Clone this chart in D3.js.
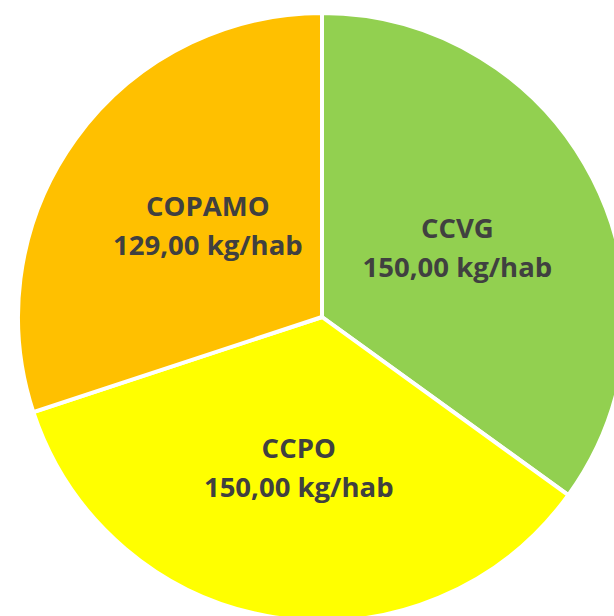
<!DOCTYPE html>
<html><head><meta charset="utf-8">
<script src="https://cdn.jsdelivr.net/npm/d3@7"></script>
<style>html,body{margin:0;padding:0;background:#fff;}</style>
</head><body>
<svg id="chart" width="614" height="616"></svg>
<script>
const categories = ["CCVG", "CCPO", "COPAMO"];
const values = [150, 150, 129];
const valueLabels = ["150,00 kg/hab", "150,00 kg/hab", "129,00 kg/hab"];
const colors = ["#92D050", "#FFFF00", "#FFC000"];

const svg = d3.select("#chart");
const cx = 322, cy = 317, r = 304;
const g = svg.append("g").attr("transform", `translate(${cx},${cy})`);
const data = categories.map((c, i) => ({cat: c, value: values[i], label: valueLabels[i], color: colors[i]}));
const pie = d3.pie().value(d => d.value).sort(null);
const arc = d3.arc().innerRadius(0).outerRadius(r);
const arcs = pie(data);
g.selectAll("path").data(arcs).join("path")
  .attr("d", arc).attr("fill", d => d.data.color)
  .attr("stroke", "#fff").attr("stroke-width", 4).attr("stroke-linejoin", "round");

const labelArc = d3.arc().innerRadius(r * 0.5).outerRadius(r * 0.5);
const offsets = [[0, 0], [0, 1], [9, -2]];
const t = g.selectAll("text.lbl").data(arcs).join("text")
  .attr("class", "lbl")
  .attr("transform", (d, i) => { const c = labelArc.centroid(d); return `translate(${c[0] + offsets[i][0]},${c[1] + offsets[i][1]})`; })
  .attr("text-anchor", "middle")
  .attr("font-family", "'Open Sans', Lato, sans-serif")
  .attr("font-weight", "bold").attr("font-size", 27.5).attr("fill", "#404040");
t.append("tspan").attr("x", 0).attr("y", -10).text(d => d.data.cat);
t.append("tspan").attr("x", 0).attr("y", 29).text(d => d.data.label);
</script>
</body></html>
